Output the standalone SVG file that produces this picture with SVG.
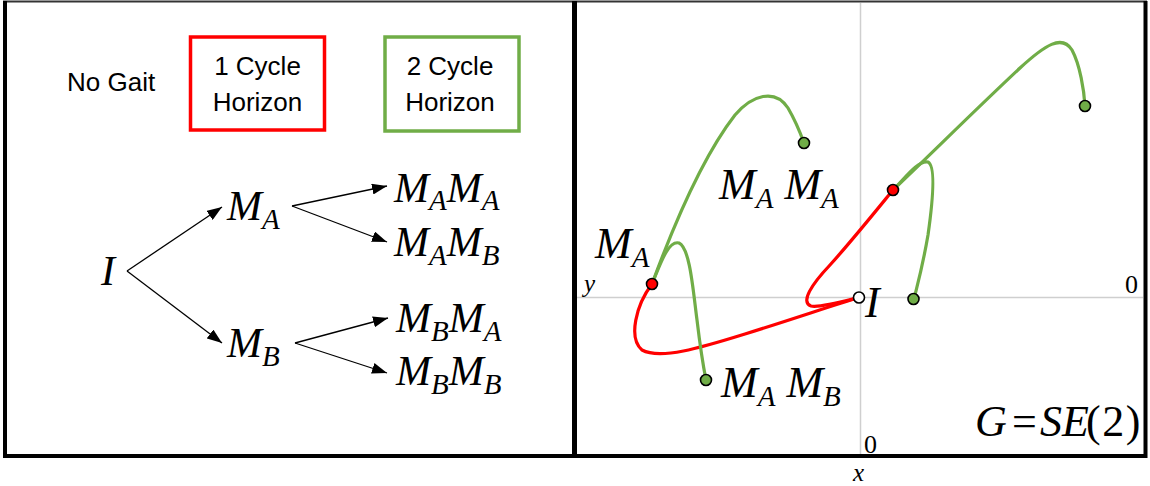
<svg xmlns="http://www.w3.org/2000/svg" width="1150" height="486" viewBox="0 0 1150 486">
<style>
.lbl{font-family:"Liberation Sans",Arial,sans-serif;font-size:26px;fill:#000}
.m{font-family:"Liberation Serif","Times New Roman",serif;font-style:italic;font-size:42px;fill:#000}
.mr{font-family:"Liberation Serif","Times New Roman",serif;font-style:italic;font-size:44px;fill:#000}
.sub{font-size:29px}
.ax{font-family:"Liberation Serif","Times New Roman",serif;font-size:26px;fill:#000}
.axi{font-family:"Liberation Serif","Times New Roman",serif;font-style:italic;font-size:25px;fill:#000}
.rom{font-style:normal}
.conn{stroke:#000;stroke-width:1.3;fill:none}
.axis{stroke:#cfcfcf;stroke-width:1.5;fill:none}
.red{stroke:#ff0000;stroke-width:3.2;fill:none;stroke-linecap:round}
.grn{stroke:#70ad47;stroke-width:3.2;fill:none;stroke-linecap:round}
.pr{fill:#ff0000;stroke:#000;stroke-width:1.6}
.pg{fill:#70ad47;stroke:#000;stroke-width:1.6}
.pw{fill:#fff;stroke:#000;stroke-width:1.6}
</style>
<defs>
<marker id="ah" markerUnits="userSpaceOnUse" markerWidth="15" markerHeight="11" refX="15" refY="5.5" orient="auto">
<path d="M0,0 L15,5.5 L0,11 z" fill="#000"/>
</marker>
</defs>
<rect width="1150" height="486" fill="#fff"/>

<g id="frame">
<line x1="3" y1="1.5" x2="1147" y2="1.5" stroke="#333" stroke-width="2"/>
<path d="M5,1 V456 H1145.5 V1" fill="none" stroke="#000" stroke-width="4"/>
<line x1="574.5" y1="1" x2="574.5" y2="457" stroke="#000" stroke-width="5"/>
</g>

<g id="legend">
<g id="no-gait"><text class="lbl" x="67" y="91">No Gait</text></g>
<g id="one-cycle">
<rect x="190.5" y="37" width="134" height="93" fill="none" stroke="#ff0000" stroke-width="3.5"/>
<text class="lbl" x="257.5" y="75" text-anchor="middle">1 Cycle</text>
<text class="lbl" x="257.5" y="111" text-anchor="middle">Horizon</text>
</g>
<g id="two-cycle">
<rect x="385" y="37" width="134" height="94" fill="none" stroke="#70ad47" stroke-width="3.5"/>
<text class="lbl" x="450" y="75" text-anchor="middle">2 Cycle</text>
<text class="lbl" x="450" y="111" text-anchor="middle">Horizon</text>
</g>
</g>

<g id="connectors">
<line class="conn" x1="127" y1="271" x2="222" y2="207" marker-end="url(#ah)"/>
<line class="conn" x1="127" y1="271" x2="222" y2="343" marker-end="url(#ah)"/>
<line class="conn" x1="292" y1="206" x2="387" y2="186" marker-end="url(#ah)"/>
<line class="conn" x1="292" y1="206" x2="387" y2="242" marker-end="url(#ah)"/>
<line class="conn" x1="295" y1="343" x2="388" y2="318" marker-end="url(#ah)"/>
<line class="conn" x1="295" y1="343" x2="387" y2="373" marker-end="url(#ah)"/>
</g>

<g id="node-I"><text class="m" x="101" y="285" font-size="44">I</text></g>
<g id="node-MA"><text class="m" x="227" y="220">M<tspan class="sub" dy="9">A</tspan></text></g>
<g id="node-MB"><text class="m" x="227" y="357">M<tspan class="sub" dy="9">B</tspan></text></g>
<g id="node-MAMA"><text class="m" x="394" y="202">M<tspan class="sub" dy="8">A</tspan><tspan dy="-8">M</tspan><tspan class="sub" dy="8">A</tspan></text></g>
<g id="node-MAMB"><text class="m" x="394" y="256">M<tspan class="sub" dy="9">A</tspan><tspan dy="-9">M</tspan><tspan class="sub" dy="9">B</tspan></text></g>
<g id="node-MBMA"><text class="m" x="396" y="332">M<tspan class="sub" dy="9">B</tspan><tspan dy="-9">M</tspan><tspan class="sub" dy="9">A</tspan></text></g>
<g id="node-MBMB"><text class="m" x="396" y="385">M<tspan class="sub" dy="9">B</tspan><tspan dy="-9">M</tspan><tspan class="sub" dy="9">B</tspan></text></g>

<g id="plot">
<line class="axis" x1="860.5" y1="3" x2="860.5" y2="454"/>
<line class="axis" x1="577" y1="297.5" x2="1143" y2="297.5"/>
<text class="axi" x="584" y="292">y</text>
<text class="ax" x="1125" y="293">0</text>
<text class="ax" x="864" y="453">0</text>
<text class="axi" x="853" y="481">x</text>

<path class="red" d="M859,297.5 C840,303 790,320 745,334 C700,348 660,360 642,350 C628,338 636,305 652,284"/>
<path class="red" d="M859,297.5 C845,301 820,308 811,306 C800,302 812,284 830,265 C850,243 875,212 893,190"/>

<path class="grn" d="M652,284 C670,235 700,160 735,115 C752,95 775,88 788,108 C795,120 800,132 804,143"/>
<path class="grn" d="M652,284 C660,265 668,240 679,243 C690,248 693,290 697,320 C700,345 703,365 706,380"/>
<path class="grn" d="M893,190 C930,155 975,110 1020,68 C1045,45 1062,34 1072,50 C1080,65 1084,90 1085,106"/>
<path class="grn" d="M893,190 C905,178 918,160 928,162 C936,166 933,200 928,235 C922,270 916,290 914,299"/>

<circle class="pw" cx="859" cy="297.5" r="5.5"/>
<circle class="pr" cx="652" cy="284" r="5.5"/>
<circle class="pr" cx="893" cy="190" r="5.5"/>
<circle class="pg" cx="804" cy="143" r="5.5"/>
<circle class="pg" cx="1085" cy="106" r="5.5"/>
<circle class="pg" cx="913.5" cy="299" r="5.5"/>
<circle class="pg" cx="706" cy="380" r="5.5"/>

<text class="mr" x="865" y="317" font-size="47">I</text>
<text class="mr" x="595" y="258">M<tspan class="sub" dy="9">A</tspan></text>
<text class="mr" x="719" y="199">M<tspan class="sub" dy="9">A</tspan><tspan dy="-9"> M</tspan><tspan class="sub" dy="9">A</tspan></text>
<text class="mr" x="721" y="397">M<tspan class="sub" dy="9">A</tspan><tspan dy="-9"> M</tspan><tspan class="sub" dy="9">B</tspan></text>
<text class="mr" font-size="34" y="436"><tspan x="975">G</tspan><tspan class="rom" x="1012">=</tspan><tspan x="1040">SE</tspan><tspan class="rom" x="1086" letter-spacing="1.5">(2)</tspan></text>
</g>
</svg>
